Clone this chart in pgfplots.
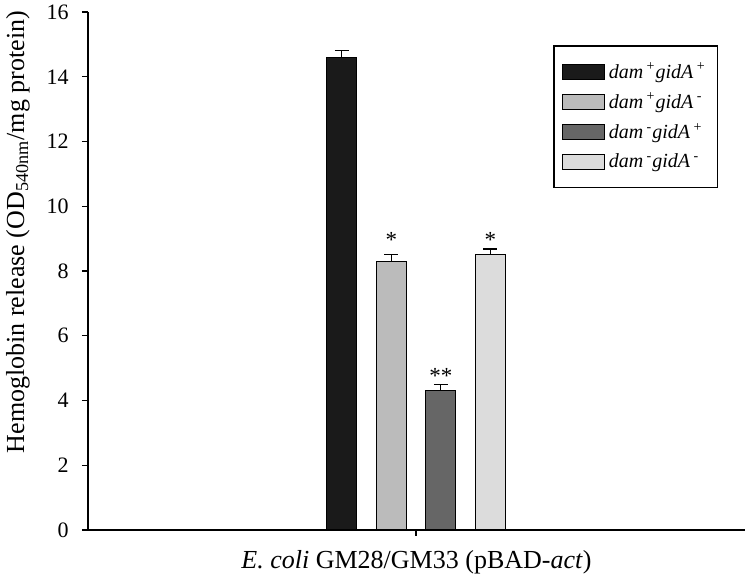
\documentclass[border=0pt]{standalone}
\usepackage{pgfplots}
\pgfplotsset{compat=1.18}
\usepackage{fontspec}
\setmainfont{Liberation Serif}

\definecolor{barA}{HTML}{1A1A1A}
\definecolor{barB}{HTML}{BBBBBB}
\definecolor{barC}{HTML}{666666}
\definecolor{barD}{HTML}{DCDCDC}

\pgfplotsset{
  mybar/.style={
    ybar, bar width=15pt, bar shift=0pt,
    draw=black, line width=0.5pt,
    legend image code/.code={\draw[##1, draw=black, line width=0.5pt] (0pt,-3.75pt) rectangle (21pt,3.75pt);},
    error bars/y dir=plus, error bars/y explicit,
    error bars/error mark=|,
    error bars/error bar style={black, line width=0.6pt},
    error bars/error mark options={black, line width=0.6pt, mark size=3.5pt},
  },
}

\begin{document}
\begin{tikzpicture}
\begin{axis}[
  scale only axis,
  width=328.5pt, height=259pt,
  xmin=-328, xmax=329, ymin=0, ymax=16,
  axis x line*=bottom, axis y line*=left,
  axis line style={line width=0.75pt},
  tick align=outside,
  major tick length=3pt,
  tick style={line width=0.6pt, black},
  xtick={0}, xticklabels={},
  ytick={0,2,...,16},
  /pgf/number format/assume math mode=true,
  tick label style={font=\fontsize{11}{13}\selectfont},
  yticklabel style={anchor=east, inner sep=0pt, xshift=-6.5pt},
  label style={font=\fontsize{13}{15}\selectfont},
  xlabel={\textit{E. coli} GM28/GM33 (pBAD-\textit{act})},
  xlabel style={at={(axis description cs:0.5,-0.0618)}, anchor=center},
  ylabel={Hemoglobin release (OD\textsubscript{540nm}/mg protein)},
  ylabel style={at={(axis description cs:-0.1066,0.575)}, anchor=center},
  clip=false,
  legend cell align=left,
  legend style={
    at={(axis description cs:0.708,0.936)}, anchor=north west,
    draw=black, line width=0.75pt,
    font=\fontsize{10}{12}\selectfont,
    inner xsep=4pt, inner ysep=6.5pt, row sep=2pt,
  },
]
\addplot[mybar, fill=barA] coordinates {(-74.25,14.6) +- (0,0.22)};
\addplot[mybar, fill=barB] coordinates {(-24.75,8.3) +- (0,0.2)};
\addplot[mybar, fill=barC] coordinates {(24.75,4.3) +- (0,0.2)};
\addplot[mybar, fill=barD] coordinates {(74.25,8.5) +- (0,0.18)};
\legend{
  \textit{dam}\,\textsuperscript{+}\textit{gidA}\,\textsuperscript{+},
  \textit{dam}\,\textsuperscript{+}\textit{gidA}\,\textsuperscript{-},
  \textit{dam}\,\textsuperscript{-}\textit{gidA}\,\textsuperscript{+},
  \textit{dam}\,\textsuperscript{-}\textit{gidA}\,\textsuperscript{-}}
\node[anchor=base, font=\fontsize{11.5}{13}\selectfont, inner sep=0pt] at (axis cs:-24.75,8.73) {*};
\node[anchor=base, font=\fontsize{11.5}{13}\selectfont, inner sep=0pt] at (axis cs:24.75,4.51) {**};
\node[anchor=base, font=\fontsize{11.5}{13}\selectfont, inner sep=0pt] at (axis cs:74.25,8.73) {*};
\end{axis}
\pgfresetboundingbox
\path[use as bounding box] ([xshift=-44pt,yshift=-26pt]current axis.south west) rectangle ([xshift=331pt,yshift=265pt]current axis.south west);
\end{tikzpicture}
\end{document}
